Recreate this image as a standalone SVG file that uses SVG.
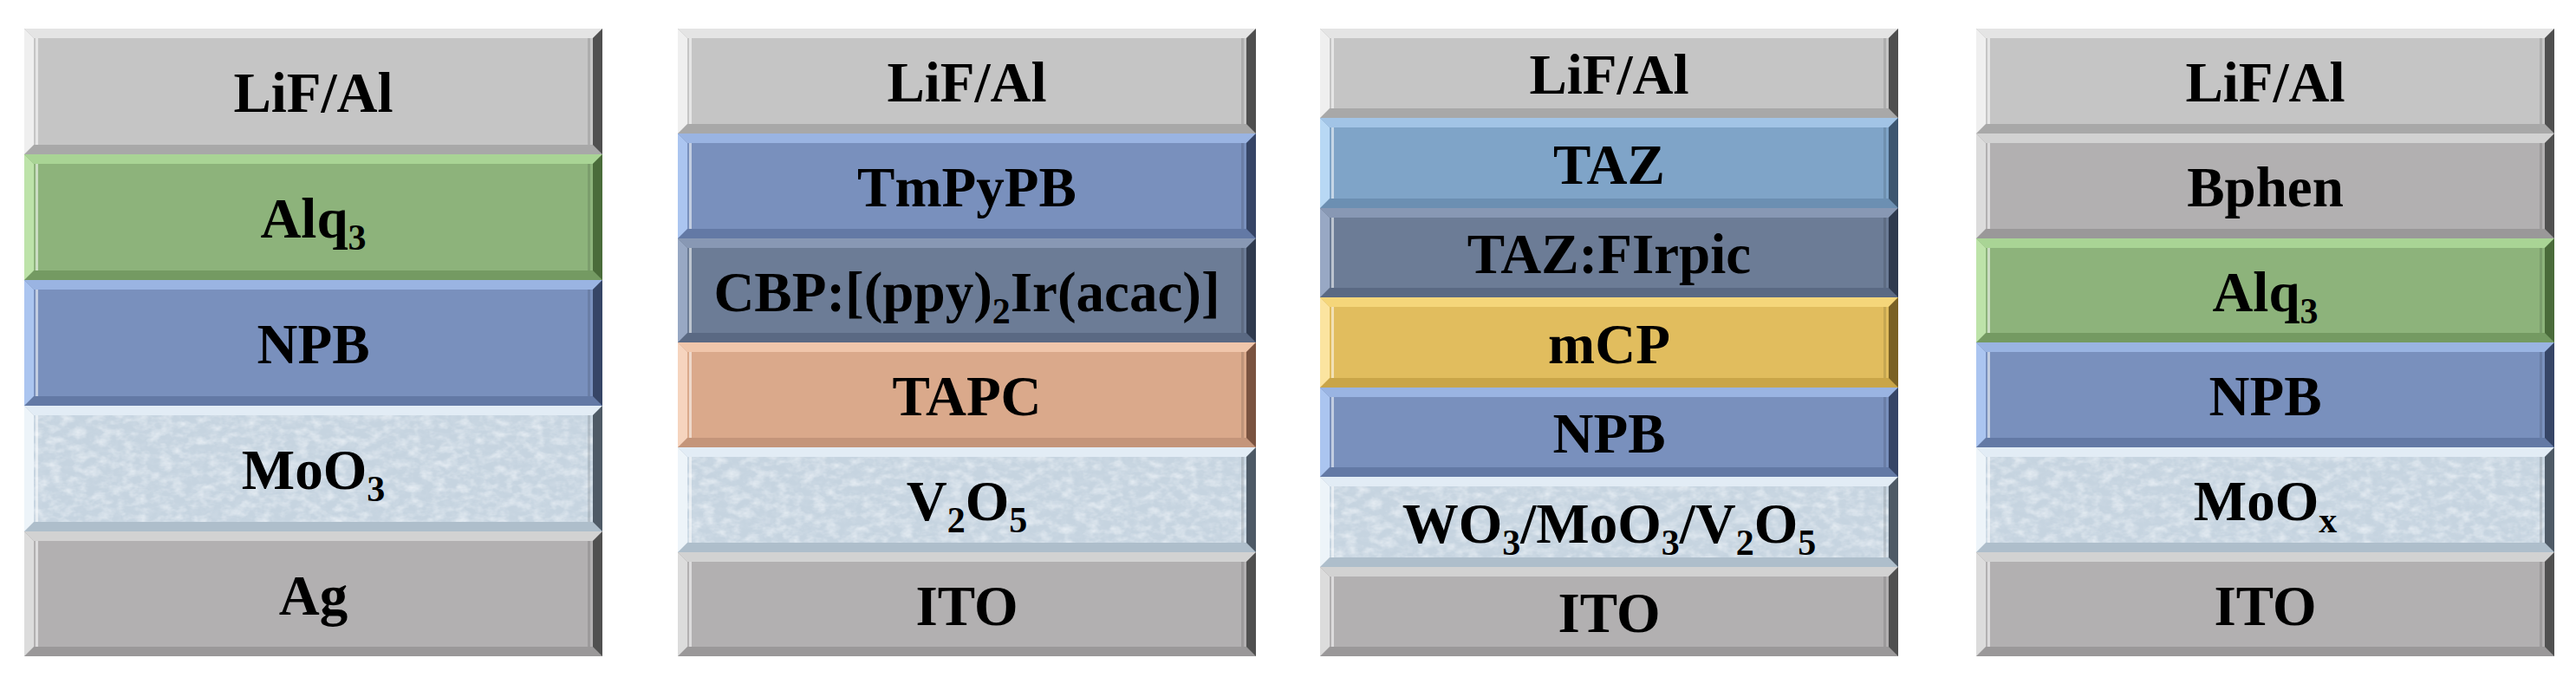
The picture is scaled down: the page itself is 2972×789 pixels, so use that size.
<svg xmlns="http://www.w3.org/2000/svg" width="2972" height="789" viewBox="0 0 2972 789">
<style>
.lbl{font-family:"Liberation Serif","Times New Roman",serif;font-weight:bold;font-size:65px;text-anchor:middle;fill:#000}
.sub{font-size:42px}
.hl{fill:#fff;opacity:.55}
.sh{fill:#000;opacity:.12}
.gray .f{fill:#c5c5c5}.gray .t{fill:#e4e4e4}.gray .l{fill:#efefef}.gray .r{fill:#4f4f4f}.gray .b{fill:#a8a8a8}
.dgray .f{fill:#b2b0b1}.dgray .t{fill:#d2d2d2}.dgray .l{fill:#dcdcdc}.dgray .r{fill:#505050}.dgray .b{fill:#9a9899}
.green .f{fill:#8db37b}.green .t{fill:#a9d495}.green .l{fill:#bde3a9}.green .r{fill:#4a6b3a}.green .b{fill:#749a62}
.blue .f{fill:#7990bd}.blue .t{fill:#9ab4e2}.blue .l{fill:#abc5f0}.blue .r{fill:#364566}.blue .b{fill:#6379a5}
.slate .f{fill:#6c7c96}.slate .t{fill:#8898b4}.slate .l{fill:#98a8c4}.slate .r{fill:#2f3a4e}.slate .b{fill:#5a6983}
.steel .f{fill:#7fa4c8}.steel .t{fill:#a2c4e6}.steel .l{fill:#b8d8f4}.steel .r{fill:#3d5670}.steel .b{fill:#6c8fb2}
.salmon .f{fill:#daa98b}.salmon .t{fill:#f0c6ab}.salmon .l{fill:#f6d4be}.salmon .r{fill:#7a5340}.salmon .b{fill:#c4957a}
.gold .f{fill:#e1bd5e}.gold .t{fill:#f5d67a}.gold .l{fill:#fbe4a0}.gold .r{fill:#7a6125}.gold .b{fill:#c9a548}
.oxide .f{fill:#c6d4e0}.oxide .t{fill:#e2ecf5}.oxide .l{fill:#edf4f9}.oxide .r{fill:#4e5a66}.oxide .b{fill:#aebecb}
.tex1{filter:url(#speckW)}
.tex2{filter:url(#speckD)}
</style>
<defs>
<filter id="speckW" x="0" y="0" width="1" height="1">
<feTurbulence type="fractalNoise" baseFrequency="0.07 0.11" numOctaves="3" seed="4"/>
<feColorMatrix type="matrix" values="0 0 0 0 0.96  0 0 0 0 0.98  0 0 0 0 1  1.2 0 0 0 -0.5"/>
<feComposite in2="SourceGraphic" operator="in"/>
</filter>
<filter id="speckD" x="0" y="0" width="1" height="1">
<feTurbulence type="fractalNoise" baseFrequency="0.12 0.16" numOctaves="2" seed="11"/>
<feColorMatrix type="matrix" values="0 0 0 0 0.64  0 0 0 0 0.72  0 0 0 0 0.80  1.1 0 0 0 -0.48"/>
<feComposite in2="SourceGraphic" operator="in"/>
</filter>
</defs>
<rect width="2972" height="789" fill="#fff"/>

<!-- Panel 1 -->
<g id="panel1">
<g id="p1-lif" class="gray" transform="translate(28,33)">
<rect class="b" width="667" height="145"/><polygon class="t" points="0,0 667,0 656,11 11,11"/><polygon class="l" points="0,0 11,11 11,134 0,145"/><polygon class="r" points="667,0 667,145 656,134 656,11"/><rect class="f" x="11" y="11" width="645" height="123"/><rect class="hl" x="13" y="11" width="3" height="123"/><rect class="sh" x="650" y="11" width="3" height="123"/>
<text class="lbl" x="333.5" y="96">LiF/Al</text></g>
<g id="p1-alq3" class="green" transform="translate(28,178)">
<rect class="b" width="667" height="145"/><polygon class="t" points="0,0 667,0 656,11 11,11"/><polygon class="l" points="0,0 11,11 11,134 0,145"/><polygon class="r" points="667,0 667,145 656,134 656,11"/><rect class="f" x="11" y="11" width="645" height="123"/><rect class="hl" x="13" y="11" width="3" height="123"/><rect class="sh" x="650" y="11" width="3" height="123"/>
<text class="lbl" x="333.5" y="96">Alq<tspan class="sub" dy="14">3</tspan></text></g>
<g id="p1-npb" class="blue" transform="translate(28,323)">
<rect class="b" width="667" height="145"/><polygon class="t" points="0,0 667,0 656,11 11,11"/><polygon class="l" points="0,0 11,11 11,134 0,145"/><polygon class="r" points="667,0 667,145 656,134 656,11"/><rect class="f" x="11" y="11" width="645" height="123"/><rect class="hl" x="13" y="11" width="3" height="123"/><rect class="sh" x="650" y="11" width="3" height="123"/>
<text class="lbl" x="333.5" y="96">NPB</text></g>
<g id="p1-moo3" class="oxide" transform="translate(28,468)">
<rect class="b" width="667" height="145"/><polygon class="t" points="0,0 667,0 656,11 11,11"/><polygon class="l" points="0,0 11,11 11,134 0,145"/><polygon class="r" points="667,0 667,145 656,134 656,11"/><rect class="f" x="11" y="11" width="645" height="123"/><rect class="tex2" x="11" y="11" width="645" height="123"/><rect class="tex1" x="11" y="11" width="645" height="123"/><rect class="hl" x="13" y="11" width="3" height="123"/><rect class="sh" x="650" y="11" width="3" height="123"/>
<text class="lbl" x="333.5" y="96">MoO<tspan class="sub" dy="14">3</tspan></text></g>
<g id="p1-ag" class="dgray" transform="translate(28,613)">
<rect class="b" width="667" height="144"/><polygon class="t" points="0,0 667,0 656,11 11,11"/><polygon class="l" points="0,0 11,11 11,133 0,144"/><polygon class="r" points="667,0 667,144 656,133 656,11"/><rect class="f" x="11" y="11" width="645" height="122"/><rect class="hl" x="13" y="11" width="3" height="122"/><rect class="sh" x="650" y="11" width="3" height="122"/>
<text class="lbl" x="333.5" y="95.5">Ag</text></g>
</g>

<!-- Panel 2 -->
<g id="panel2">
<g id="p2-lif" class="gray" transform="translate(782,33)">
<rect class="b" width="667" height="121"/><polygon class="t" points="0,0 667,0 656,11 11,11"/><polygon class="l" points="0,0 11,11 11,110 0,121"/><polygon class="r" points="667,0 667,121 656,110 656,11"/><rect class="f" x="11" y="11" width="645" height="99"/><rect class="hl" x="13" y="11" width="3" height="99"/><rect class="sh" x="650" y="11" width="3" height="99"/>
<text class="lbl" x="333.5" y="84">LiF/Al</text></g>
<g id="p2-tmpypb" class="blue" transform="translate(782,154)">
<rect class="b" width="667" height="121"/><polygon class="t" points="0,0 667,0 656,11 11,11"/><polygon class="l" points="0,0 11,11 11,110 0,121"/><polygon class="r" points="667,0 667,121 656,110 656,11"/><rect class="f" x="11" y="11" width="645" height="99"/><rect class="hl" x="13" y="11" width="3" height="99"/><rect class="sh" x="650" y="11" width="3" height="99"/>
<text class="lbl" x="333.5" y="84">TmPyPB</text></g>
<g id="p2-cbp" class="slate" transform="translate(782,275)">
<rect class="b" width="667" height="120"/><polygon class="t" points="0,0 667,0 656,11 11,11"/><polygon class="l" points="0,0 11,11 11,109 0,120"/><polygon class="r" points="667,0 667,120 656,109 656,11"/><rect class="f" x="11" y="11" width="645" height="98"/><rect class="hl" x="13" y="11" width="3" height="98"/><rect class="sh" x="650" y="11" width="3" height="98"/>
<text class="lbl" x="333.5" y="83.5">CBP:[(ppy)<tspan class="sub" dy="14">2</tspan><tspan dy="-14">Ir(acac)]</tspan></text></g>
<g id="p2-tapc" class="salmon" transform="translate(782,395)">
<rect class="b" width="667" height="121"/><polygon class="t" points="0,0 667,0 656,11 11,11"/><polygon class="l" points="0,0 11,11 11,110 0,121"/><polygon class="r" points="667,0 667,121 656,110 656,11"/><rect class="f" x="11" y="11" width="645" height="99"/><rect class="hl" x="13" y="11" width="3" height="99"/><rect class="sh" x="650" y="11" width="3" height="99"/>
<text class="lbl" x="333.5" y="84">TAPC</text></g>
<g id="p2-v2o5" class="oxide" transform="translate(782,516)">
<rect class="b" width="667" height="121"/><polygon class="t" points="0,0 667,0 656,11 11,11"/><polygon class="l" points="0,0 11,11 11,110 0,121"/><polygon class="r" points="667,0 667,121 656,110 656,11"/><rect class="f" x="11" y="11" width="645" height="99"/><rect class="tex2" x="11" y="11" width="645" height="99"/><rect class="tex1" x="11" y="11" width="645" height="99"/><rect class="hl" x="13" y="11" width="3" height="99"/><rect class="sh" x="650" y="11" width="3" height="99"/>
<text class="lbl" x="333.5" y="84">V<tspan class="sub" dy="14">2</tspan><tspan dy="-14">O</tspan><tspan class="sub" dy="14">5</tspan></text></g>
<g id="p2-ito" class="dgray" transform="translate(782,637)">
<rect class="b" width="667" height="120"/><polygon class="t" points="0,0 667,0 656,11 11,11"/><polygon class="l" points="0,0 11,11 11,109 0,120"/><polygon class="r" points="667,0 667,120 656,109 656,11"/><rect class="f" x="11" y="11" width="645" height="98"/><rect class="hl" x="13" y="11" width="3" height="98"/><rect class="sh" x="650" y="11" width="3" height="98"/>
<text class="lbl" x="333.5" y="83.5">ITO</text></g>
</g>

<!-- Panel 3 -->
<g id="panel3">
<g id="p3-lif" class="gray" transform="translate(1523,33)">
<rect class="b" width="667" height="103"/><polygon class="t" points="0,0 667,0 656,11 11,11"/><polygon class="l" points="0,0 11,11 11,92 0,103"/><polygon class="r" points="667,0 667,103 656,92 656,11"/><rect class="f" x="11" y="11" width="645" height="81"/><rect class="hl" x="13" y="11" width="3" height="81"/><rect class="sh" x="650" y="11" width="3" height="81"/>
<text class="lbl" x="333.5" y="75">LiF/Al</text></g>
<g id="p3-taz" class="steel" transform="translate(1523,136)">
<rect class="b" width="667" height="104"/><polygon class="t" points="0,0 667,0 656,11 11,11"/><polygon class="l" points="0,0 11,11 11,93 0,104"/><polygon class="r" points="667,0 667,104 656,93 656,11"/><rect class="f" x="11" y="11" width="645" height="82"/><rect class="hl" x="13" y="11" width="3" height="82"/><rect class="sh" x="650" y="11" width="3" height="82"/>
<text class="lbl" x="333.5" y="75.5">TAZ</text></g>
<g id="p3-tazfirpic" class="slate" transform="translate(1523,240)">
<rect class="b" width="667" height="103"/><polygon class="t" points="0,0 667,0 656,11 11,11"/><polygon class="l" points="0,0 11,11 11,92 0,103"/><polygon class="r" points="667,0 667,103 656,92 656,11"/><rect class="f" x="11" y="11" width="645" height="81"/><rect class="hl" x="13" y="11" width="3" height="81"/><rect class="sh" x="650" y="11" width="3" height="81"/>
<text class="lbl" x="333.5" y="75">TAZ:FIrpic</text></g>
<g id="p3-mcp" class="gold" transform="translate(1523,343)">
<rect class="b" width="667" height="104"/><polygon class="t" points="0,0 667,0 656,11 11,11"/><polygon class="l" points="0,0 11,11 11,93 0,104"/><polygon class="r" points="667,0 667,104 656,93 656,11"/><rect class="f" x="11" y="11" width="645" height="82"/><rect class="hl" x="13" y="11" width="3" height="82"/><rect class="sh" x="650" y="11" width="3" height="82"/>
<text class="lbl" x="333.5" y="75.5">mCP</text></g>
<g id="p3-npb" class="blue" transform="translate(1523,447)">
<rect class="b" width="667" height="103"/><polygon class="t" points="0,0 667,0 656,11 11,11"/><polygon class="l" points="0,0 11,11 11,92 0,103"/><polygon class="r" points="667,0 667,103 656,92 656,11"/><rect class="f" x="11" y="11" width="645" height="81"/><rect class="hl" x="13" y="11" width="3" height="81"/><rect class="sh" x="650" y="11" width="3" height="81"/>
<text class="lbl" x="333.5" y="75">NPB</text></g>
<g id="p3-oxides" class="oxide" transform="translate(1523,550)">
<rect class="b" width="667" height="104"/><polygon class="t" points="0,0 667,0 656,11 11,11"/><polygon class="l" points="0,0 11,11 11,93 0,104"/><polygon class="r" points="667,0 667,104 656,93 656,11"/><rect class="f" x="11" y="11" width="645" height="82"/><rect class="tex2" x="11" y="11" width="645" height="82"/><rect class="tex1" x="11" y="11" width="645" height="82"/><rect class="hl" x="13" y="11" width="3" height="82"/><rect class="sh" x="650" y="11" width="3" height="82"/>
<text class="lbl" x="333.5" y="75.5">WO<tspan class="sub" dy="14">3</tspan><tspan dy="-14">/MoO</tspan><tspan class="sub" dy="14">3</tspan><tspan dy="-14">/V</tspan><tspan class="sub" dy="14">2</tspan><tspan dy="-14">O</tspan><tspan class="sub" dy="14">5</tspan></text></g>
<g id="p3-ito" class="dgray" transform="translate(1523,654)">
<rect class="b" width="667" height="103"/><polygon class="t" points="0,0 667,0 656,11 11,11"/><polygon class="l" points="0,0 11,11 11,92 0,103"/><polygon class="r" points="667,0 667,103 656,92 656,11"/><rect class="f" x="11" y="11" width="645" height="81"/><rect class="hl" x="13" y="11" width="3" height="81"/><rect class="sh" x="650" y="11" width="3" height="81"/>
<text class="lbl" x="333.5" y="75">ITO</text></g>
</g>

<!-- Panel 4 -->
<g id="panel4">
<g id="p4-lif" class="gray" transform="translate(2280,33)">
<rect class="b" width="667" height="121"/><polygon class="t" points="0,0 667,0 656,11 11,11"/><polygon class="l" points="0,0 11,11 11,110 0,121"/><polygon class="r" points="667,0 667,121 656,110 656,11"/><rect class="f" x="11" y="11" width="645" height="99"/><rect class="hl" x="13" y="11" width="3" height="99"/><rect class="sh" x="650" y="11" width="3" height="99"/>
<text class="lbl" x="333.5" y="84">LiF/Al</text></g>
<g id="p4-bphen" class="dgray" transform="translate(2280,154)">
<rect class="b" width="667" height="121"/><polygon class="t" points="0,0 667,0 656,11 11,11"/><polygon class="l" points="0,0 11,11 11,110 0,121"/><polygon class="r" points="667,0 667,121 656,110 656,11"/><rect class="f" x="11" y="11" width="645" height="99"/><rect class="hl" x="13" y="11" width="3" height="99"/><rect class="sh" x="650" y="11" width="3" height="99"/>
<text class="lbl" x="333.5" y="84">Bphen</text></g>
<g id="p4-alq3" class="green" transform="translate(2280,275)">
<rect class="b" width="667" height="120"/><polygon class="t" points="0,0 667,0 656,11 11,11"/><polygon class="l" points="0,0 11,11 11,109 0,120"/><polygon class="r" points="667,0 667,120 656,109 656,11"/><rect class="f" x="11" y="11" width="645" height="98"/><rect class="hl" x="13" y="11" width="3" height="98"/><rect class="sh" x="650" y="11" width="3" height="98"/>
<text class="lbl" x="333.5" y="83.5">Alq<tspan class="sub" dy="14">3</tspan></text></g>
<g id="p4-npb" class="blue" transform="translate(2280,395)">
<rect class="b" width="667" height="121"/><polygon class="t" points="0,0 667,0 656,11 11,11"/><polygon class="l" points="0,0 11,11 11,110 0,121"/><polygon class="r" points="667,0 667,121 656,110 656,11"/><rect class="f" x="11" y="11" width="645" height="99"/><rect class="hl" x="13" y="11" width="3" height="99"/><rect class="sh" x="650" y="11" width="3" height="99"/>
<text class="lbl" x="333.5" y="84">NPB</text></g>
<g id="p4-moox" class="oxide" transform="translate(2280,516)">
<rect class="b" width="667" height="121"/><polygon class="t" points="0,0 667,0 656,11 11,11"/><polygon class="l" points="0,0 11,11 11,110 0,121"/><polygon class="r" points="667,0 667,121 656,110 656,11"/><rect class="f" x="11" y="11" width="645" height="99"/><rect class="tex2" x="11" y="11" width="645" height="99"/><rect class="tex1" x="11" y="11" width="645" height="99"/><rect class="hl" x="13" y="11" width="3" height="99"/><rect class="sh" x="650" y="11" width="3" height="99"/>
<text class="lbl" x="333.5" y="84">MoO<tspan class="sub" dy="14">x</tspan></text></g>
<g id="p4-ito" class="dgray" transform="translate(2280,637)">
<rect class="b" width="667" height="120"/><polygon class="t" points="0,0 667,0 656,11 11,11"/><polygon class="l" points="0,0 11,11 11,109 0,120"/><polygon class="r" points="667,0 667,120 656,109 656,11"/><rect class="f" x="11" y="11" width="645" height="98"/><rect class="hl" x="13" y="11" width="3" height="98"/><rect class="sh" x="650" y="11" width="3" height="98"/>
<text class="lbl" x="333.5" y="83.5">ITO</text></g>
</g>
<g id="connectors"/>
</svg>
